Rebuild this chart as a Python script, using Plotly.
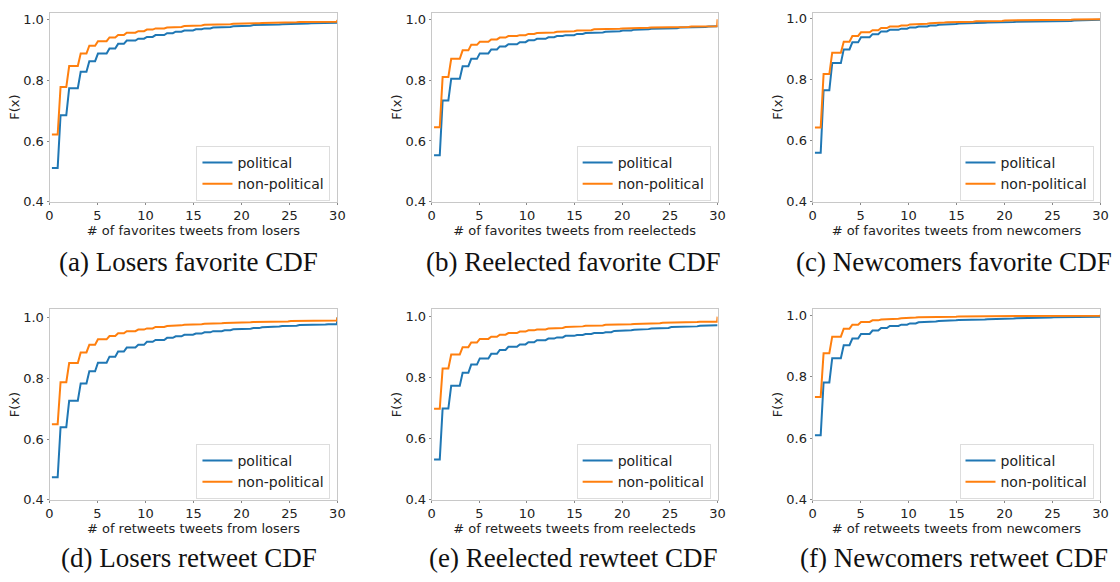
import numpy as np
import plotly.graph_objects as go

# CDF values F(k) for k = 0..30
losers_fav_pol = [0.512, 0.686, 0.775, 0.829, 0.864, 0.889, 0.906, 0.921, 0.932, 0.938, 0.944, 0.950, 0.956, 0.961, 0.965, 0.969, 0.972, 0.975, 0.977, 0.979, 0.981, 0.983, 0.984, 0.985, 0.986, 0.987, 0.988, 0.989, 0.990, 0.991, 0.992]
losers_fav_non = [0.622, 0.779, 0.848, 0.889, 0.915, 0.930, 0.942, 0.950, 0.958, 0.963, 0.968, 0.972, 0.975, 0.977, 0.980, 0.982, 0.984, 0.985, 0.986, 0.987, 0.988, 0.989, 0.990, 0.991, 0.992, 0.992, 0.993, 0.993, 0.994, 0.994, 1.000]
reel_fav_pol = [0.553, 0.733, 0.805, 0.846, 0.870, 0.888, 0.901, 0.911, 0.918, 0.925, 0.931, 0.936, 0.941, 0.945, 0.948, 0.952, 0.955, 0.957, 0.959, 0.961, 0.963, 0.966, 0.967, 0.969, 0.970, 0.971, 0.973, 0.974, 0.975, 0.976, 0.977]
reel_fav_non = [0.645, 0.810, 0.870, 0.898, 0.916, 0.926, 0.934, 0.940, 0.945, 0.948, 0.952, 0.955, 0.957, 0.959, 0.961, 0.963, 0.964, 0.967, 0.968, 0.969, 0.970, 0.971, 0.972, 0.973, 0.974, 0.975, 0.975, 0.976, 0.977, 0.977, 1.000]
new_fav_pol = [0.561, 0.766, 0.855, 0.900, 0.923, 0.940, 0.950, 0.959, 0.964, 0.968, 0.972, 0.975, 0.978, 0.981, 0.983, 0.985, 0.986, 0.987, 0.988, 0.989, 0.990, 0.991, 0.991, 0.992, 0.992, 0.993, 0.993, 0.995, 0.995, 0.996, 0.997]
new_fav_non = [0.644, 0.819, 0.889, 0.925, 0.944, 0.956, 0.963, 0.970, 0.975, 0.978, 0.982, 0.984, 0.986, 0.988, 0.989, 0.990, 0.991, 0.992, 0.993, 0.993, 0.995, 0.995, 0.996, 0.996, 0.997, 0.997, 0.997, 0.998, 0.998, 0.998, 0.999]
losers_rt_pol = [0.474, 0.639, 0.726, 0.783, 0.823, 0.851, 0.871, 0.888, 0.901, 0.910, 0.920, 0.926, 0.933, 0.938, 0.943, 0.947, 0.951, 0.955, 0.958, 0.961, 0.963, 0.965, 0.968, 0.970, 0.972, 0.973, 0.975, 0.976, 0.977, 0.978, 1.000]
losers_rt_non = [0.649, 0.787, 0.850, 0.885, 0.910, 0.928, 0.939, 0.948, 0.955, 0.960, 0.964, 0.969, 0.972, 0.974, 0.976, 0.978, 0.979, 0.981, 0.982, 0.983, 0.984, 0.985, 0.986, 0.987, 0.987, 0.988, 0.988, 0.989, 0.989, 0.990, 1.000]
reel_rt_pol = [0.532, 0.699, 0.774, 0.816, 0.843, 0.863, 0.878, 0.891, 0.901, 0.909, 0.916, 0.923, 0.928, 0.932, 0.937, 0.940, 0.943, 0.946, 0.949, 0.953, 0.955, 0.957, 0.959, 0.961, 0.963, 0.966, 0.967, 0.968, 0.970, 0.971, 0.972]
reel_rt_non = [0.698, 0.830, 0.876, 0.900, 0.915, 0.927, 0.934, 0.941, 0.946, 0.951, 0.955, 0.958, 0.961, 0.963, 0.966, 0.968, 0.970, 0.971, 0.973, 0.974, 0.975, 0.976, 0.977, 0.978, 0.980, 0.981, 0.981, 0.982, 0.983, 0.983, 1.000]
new_rt_pol = [0.610, 0.782, 0.861, 0.903, 0.925, 0.940, 0.951, 0.959, 0.966, 0.970, 0.974, 0.978, 0.980, 0.982, 0.984, 0.985, 0.986, 0.987, 0.988, 0.989, 0.990, 0.991, 0.992, 0.993, 0.993, 0.994, 0.994, 0.995, 0.995, 0.996, 1.000]
new_rt_non = [0.735, 0.877, 0.931, 0.957, 0.970, 0.979, 0.984, 0.987, 0.989, 0.991, 0.993, 0.994, 0.995, 0.996, 0.996, 0.997, 0.997, 0.997, 0.998, 0.998, 0.998, 0.998, 0.998, 0.999, 0.999, 0.999, 0.999, 0.999, 0.999, 0.999, 1.000]

series_names = ["political", "non-political"]
x_labels = [
    "# of favorites tweets from losers",
    "# of favorites tweets from reelecteds",
    "# of favorites tweets from newcomers",
    "# of retweets tweets from losers",
    "# of retweets tweets from reelecteds",
    "# of retweets tweets from newcomers",
]
captions = [
    "(a) Losers favorite CDF",
    "(b) Reelected favorite CDF",
    "(c) Newcomers favorite CDF",
    "(d) Losers retweet CDF",
    "(e) Reelected rewteet CDF",
    "(f) Newcomers retweet CDF",
]
panels = [
    (losers_fav_pol, losers_fav_non),
    (reel_fav_pol, reel_fav_non),
    (new_fav_pol, new_fav_non),
    (losers_rt_pol, losers_rt_non),
    (reel_rt_pol, reel_rt_non),
    (new_rt_pol, new_rt_non),
]

COLORS = ["#1f77b4", "#ff7f0e"]
W, H = 1120, 582
col_px = [(46, 337), (432.3, 721.3), (817.3, 1108.3)]
row_px = [(11.7, 204.0), (313.3, 506.7)]
cap_cx = [187, 576, 960]
cap_cy = [265, 566]

# evaluation grid for the CDF (sampled curve)
grid = np.append(0.25 + 0.3 * np.arange(100), 30.0)


def sample(F):
    F = np.asarray(F)
    idx = np.minimum(np.floor(grid).astype(int), 30)
    return F[idx]


fig = go.Figure()
layout = dict(width=W, height=H, margin=dict(l=0, r=0, t=0, b=0),
              paper_bgcolor="white", plot_bgcolor="white", showlegend=True,
              font=dict(family="DejaVu Sans", color="#222222"))
annotations = []

for p, (pol, non) in enumerate(panels):
    r, c = divmod(p, 3)
    n = p + 1
    xa = "x" if n == 1 else f"x{n}"
    ya = "y" if n == 1 else f"y{n}"
    lg = "legend" if n == 1 else f"legend{n}"
    for s, vals in enumerate((pol, non)):
        fig.add_trace(go.Scatter(
            x=grid, y=sample(vals), mode="lines", name=series_names[s],
            line=dict(color=COLORS[s], width=2), xaxis=xa, yaxis=ya, legend=lg,
            showlegend=True))
    lo = min(min(pol), min(non))
    hi = max(max(pol), max(non))
    ytop = hi + 0.05 * (hi - lo)
    x0, x1 = col_px[c]
    t0, t1 = row_px[r]
    axis_common = dict(showline=True, mirror=True, linecolor="#c8c8c8", linewidth=1,
                       showgrid=False, zeroline=False, ticks="outside", ticklen=2,
                       tickcolor="#888888", tickfont=dict(size=13, color="#222222"))
    layout["xaxis" if n == 1 else f"xaxis{n}"] = dict(
        axis_common, domain=[x0 / W, x1 / W], range=[0, 30], anchor=ya,
        tickvals=[0, 5, 10, 15, 20, 25, 30],
        title=dict(text=x_labels[p], font=dict(size=13, color="#222222"), standoff=0))
    layout["yaxis" if n == 1 else f"yaxis{n}"] = dict(
        axis_common, domain=[1 - t1 / H, 1 - t0 / H], range=[0.4, ytop], anchor=xa,
        tickvals=[0.4, 0.6, 0.8, 1.0], tickformat=".1f",
        title=dict(text="F(x)", font=dict(size=13, color="#222222"), standoff=0))
    layout[lg] = dict(
        x=(x1 - 7) / W, y=1 - (t1 - 1) / H, xanchor="right", yanchor="bottom",
        bgcolor="rgba(255,255,255,0.8)", bordercolor="#dddddd", borderwidth=1,
        font=dict(size=14, color="#222222"), tracegroupgap=0, itemwidth=30)
    annotations.append(dict(
        text=captions[p], x=cap_cx[c] / W, y=1 - cap_cy[r] / H, xref="paper", yref="paper",
        xanchor="center", yanchor="middle", showarrow=False,
        font=dict(family="Liberation Serif", size=27, color="#111111")))

layout["annotations"] = annotations
fig.update_layout(**layout)
fig.write_html("out.html")
